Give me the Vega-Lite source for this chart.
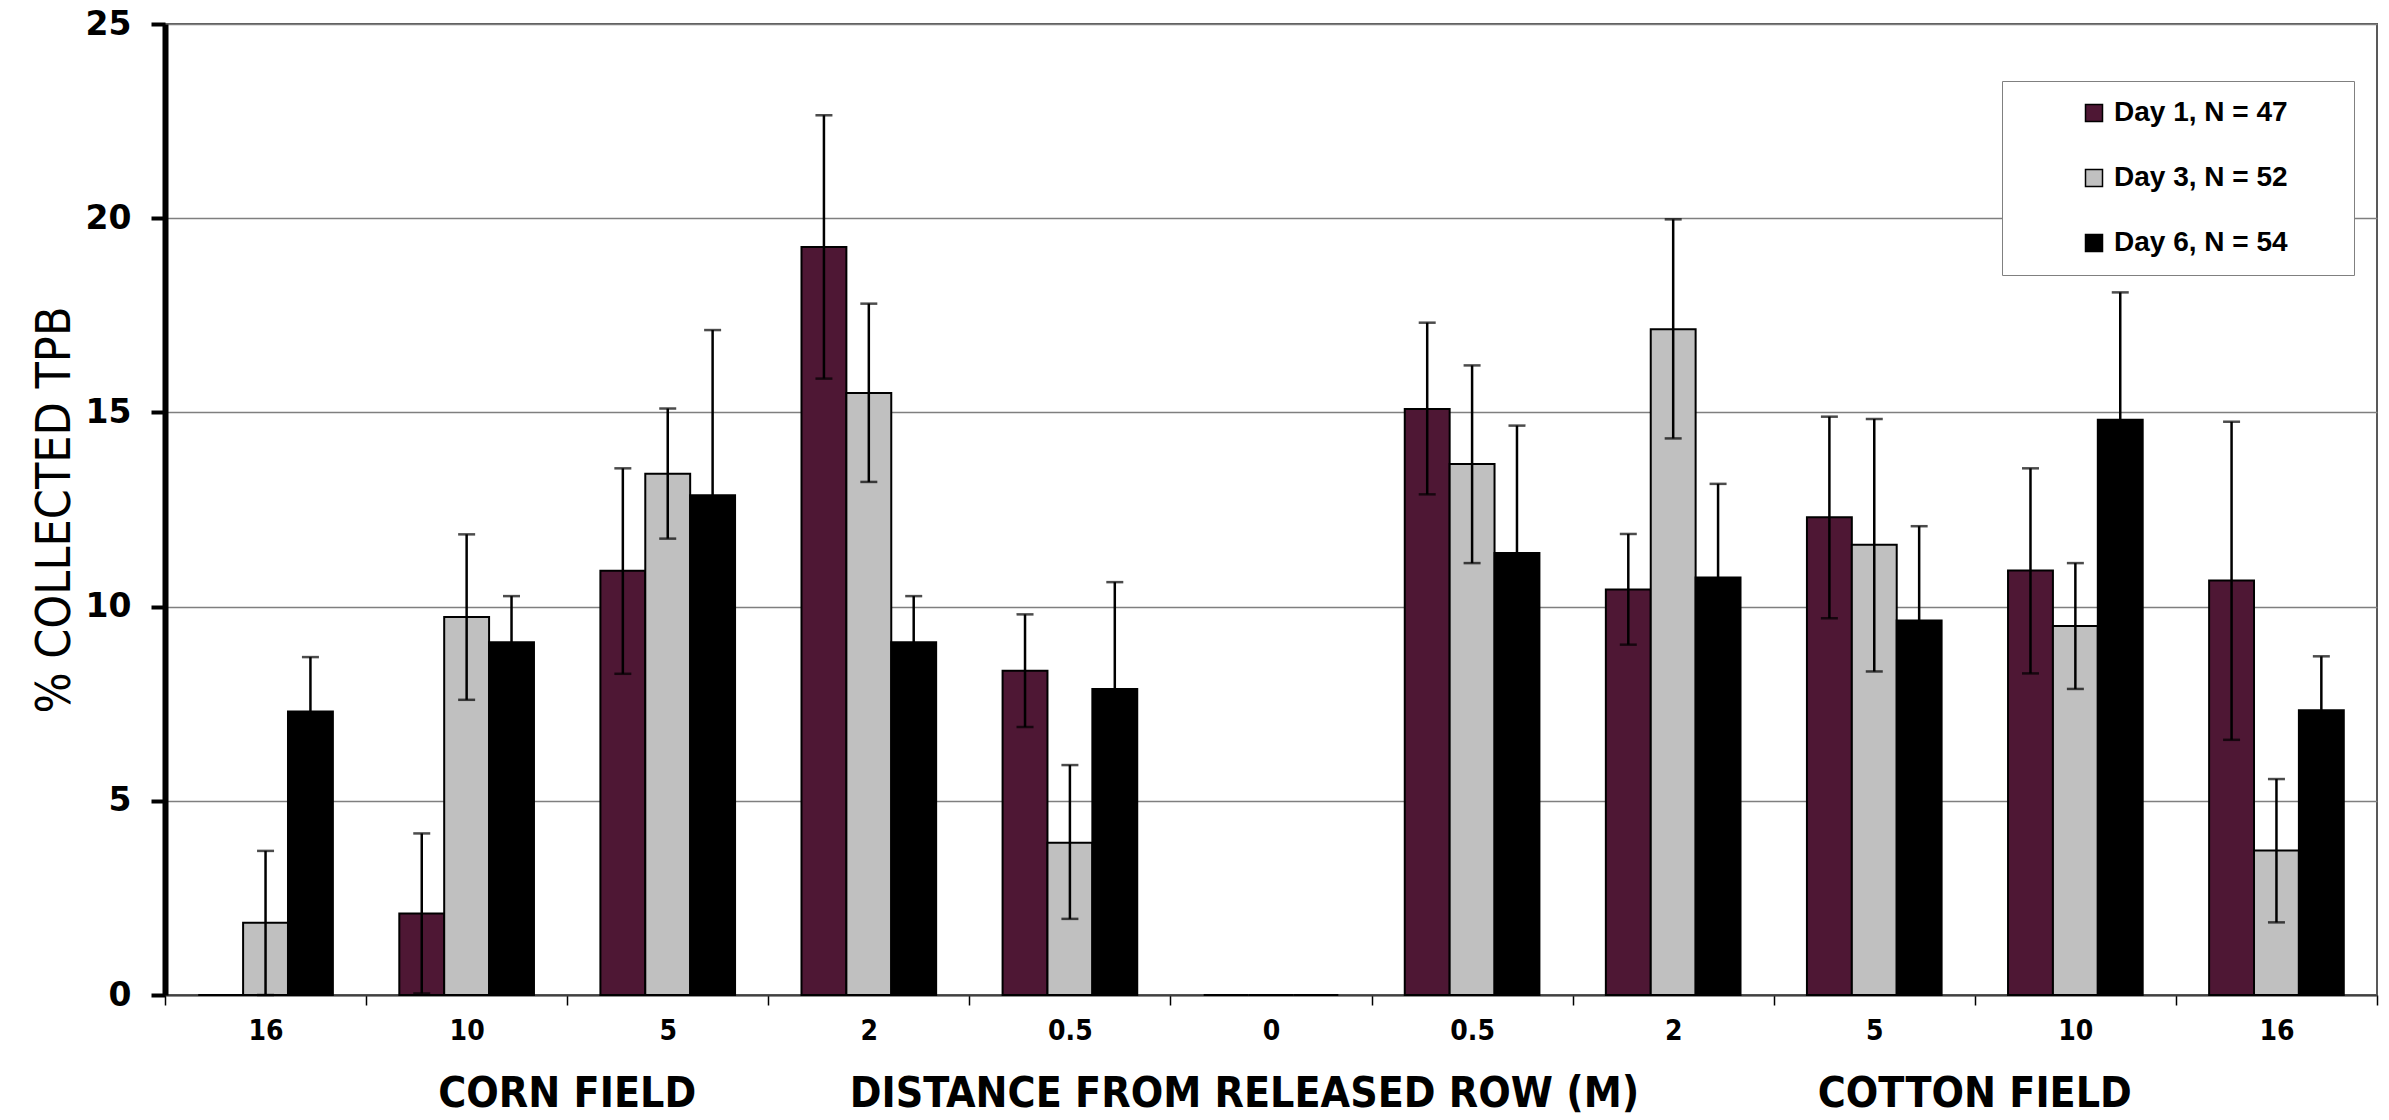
{
  "$schema": "https://vega.github.io/schema/vega-lite/v6.json",
  "width": 2212,
  "height": 971,
  "autosize": {"type": "none"},
  "padding": {"left": 165, "top": 24, "right": 12, "bottom": 125},
  "background": "white",
  "config": {
    "view": {"stroke": "#595959", "strokeWidth": 2},
    "legend": {
      "strokeColor": "#808080",
      "fillColor": "white",
      "padding": 18,
      "symbolType": "square",
      "symbolSize": 289,
      "symbolStrokeColor": "black",
      "symbolStrokeWidth": 1.5,
      "symbolOffset": 60,
      "labelOffset": 6,
      "labelLimit": 500,
      "labelFont": "Liberation Sans",
      "labelFontWeight": "bold",
      "labelFontSize": 28,
      "labelColor": "black",
      "rowPadding": 37
    }
  },
  "datasets": {
    "bars": [
      {"key": "corn|16", "day": "Day 1, N = 47", "value": 0},
      {"key": "corn|16", "day": "Day 3, N = 52", "value": 1.86, "lo": 0, "hi": 3.71},
      {"key": "corn|16", "day": "Day 6, N = 54", "value": 7.30, "lo": 5.90, "hi": 8.70},
      {"key": "corn|10", "day": "Day 1, N = 47", "value": 2.10, "lo": 0.04, "hi": 4.16},
      {"key": "corn|10", "day": "Day 3, N = 52", "value": 9.73, "lo": 7.60, "hi": 11.86},
      {"key": "corn|10", "day": "Day 6, N = 54", "value": 9.08, "lo": 7.89, "hi": 10.27},
      {"key": "corn|5", "day": "Day 1, N = 47", "value": 10.92, "lo": 8.27, "hi": 13.56},
      {"key": "corn|5", "day": "Day 3, N = 52", "value": 13.42, "lo": 11.75, "hi": 15.10},
      {"key": "corn|5", "day": "Day 6, N = 54", "value": 12.87, "lo": 8.62, "hi": 17.12},
      {"key": "corn|2", "day": "Day 1, N = 47", "value": 19.26, "lo": 15.87, "hi": 22.65},
      {"key": "corn|2", "day": "Day 3, N = 52", "value": 15.50, "lo": 13.21, "hi": 17.80},
      {"key": "corn|2", "day": "Day 6, N = 54", "value": 9.08, "lo": 7.89, "hi": 10.27},
      {"key": "corn|0.5", "day": "Day 1, N = 47", "value": 8.35, "lo": 6.90, "hi": 9.80},
      {"key": "corn|0.5", "day": "Day 3, N = 52", "value": 3.92, "lo": 1.96, "hi": 5.92},
      {"key": "corn|0.5", "day": "Day 6, N = 54", "value": 7.88, "lo": 5.13, "hi": 10.63},
      {"key": "row|0", "day": "Day 1, N = 47", "value": 0},
      {"key": "row|0", "day": "Day 3, N = 52", "value": 0},
      {"key": "row|0", "day": "Day 6, N = 54", "value": 0},
      {"key": "cotton|0.5", "day": "Day 1, N = 47", "value": 15.09, "lo": 12.89, "hi": 17.31},
      {"key": "cotton|0.5", "day": "Day 3, N = 52", "value": 13.67, "lo": 11.12, "hi": 16.21},
      {"key": "cotton|0.5", "day": "Day 6, N = 54", "value": 11.38, "lo": 8.10, "hi": 14.66},
      {"key": "cotton|2", "day": "Day 1, N = 47", "value": 10.44, "lo": 9.02, "hi": 11.87},
      {"key": "cotton|2", "day": "Day 3, N = 52", "value": 17.14, "lo": 14.33, "hi": 19.97},
      {"key": "cotton|2", "day": "Day 6, N = 54", "value": 10.75, "lo": 8.34, "hi": 13.16},
      {"key": "cotton|5", "day": "Day 1, N = 47", "value": 12.30, "lo": 9.70, "hi": 14.89},
      {"key": "cotton|5", "day": "Day 3, N = 52", "value": 11.59, "lo": 8.33, "hi": 14.83},
      {"key": "cotton|5", "day": "Day 6, N = 54", "value": 9.64, "lo": 7.21, "hi": 12.07},
      {"key": "cotton|10", "day": "Day 1, N = 47", "value": 10.93, "lo": 8.28, "hi": 13.56},
      {"key": "cotton|10", "day": "Day 3, N = 52", "value": 9.50, "lo": 7.88, "hi": 11.12},
      {"key": "cotton|10", "day": "Day 6, N = 54", "value": 14.81, "lo": 11.53, "hi": 18.09},
      {"key": "cotton|16", "day": "Day 1, N = 47", "value": 10.67, "lo": 6.57, "hi": 14.76},
      {"key": "cotton|16", "day": "Day 3, N = 52", "value": 3.72, "lo": 1.87, "hi": 5.56},
      {"key": "cotton|16", "day": "Day 6, N = 54", "value": 7.33, "lo": 5.94, "hi": 8.72}
    ],
    "regions": [
      {"key": "corn|10", "region": "CORN FIELD"},
      {"key": "cotton|5", "region": "COTTON FIELD"}
    ]
  },
  "layer": [
    {
      "data": {"name": "bars"},
      "mark": {"type": "bar", "stroke": "black", "strokeWidth": 2},
      "encoding": {
        "x": {
          "field": "key", "type": "nominal", "sort": null,
          "scale": {"paddingInner": 0, "paddingOuter": 0},
          "axis": {
            "title": "DISTANCE FROM RELEASED ROW (M)",
            "tickBand": "extent",
            "labelExpr": "split(datum.value, '|')[1]",
            "labelAngle": 0,
            "labelFont": "DejaVu Sans Condensed",
            "labelFontWeight": "bold",
            "labelFontSize": 28,
            "labelColor": "black",
            "labelPadding": 12,
            "tickSize": 10,
            "tickColor": "black",
            "tickWidth": 1.5,
            "domainColor": "#404040",
            "domainWidth": 2,
            "grid": false,
            "titleFont": "DejaVu Sans Condensed",
            "titleFontSize": 42.5,
            "titleFontWeight": "bold",
            "titleColor": "black",
            "titlePadding": 27,
            "titleX": 1079
          }
        },
        "xOffset": {"field": "day", "type": "nominal", "scale": {"paddingInner": 0, "paddingOuter": 0.74}},
        "y": {
          "field": "value", "type": "quantitative",
          "scale": {"domain": [0, 25], "nice": false},
          "axis": {
            "title": "% COLLECTED TPB",
            "values": [0, 5, 10, 15, 20, 25],
            "grid": true,
            "gridColor": "#7f7f7f",
            "gridWidth": 1.5,
            "domainColor": "black",
            "domainWidth": 6,
            "tickColor": "black",
            "tickWidth": 4,
            "tickSize": 14,
            "labelFont": "DejaVu Sans",
            "labelFontWeight": "bold",
            "labelFontSize": 33,
            "labelColor": "black",
            "labelPadding": 20,
            "titleFont": "DejaVu Sans Condensed",
            "titleFontSize": 48,
            "titleFontWeight": "normal",
            "titleColor": "black",
            "titlePadding": 6
          }
        },
        "color": {
          "field": "day", "type": "nominal",
          "scale": {"domain": ["Day 1, N = 47", "Day 3, N = 52", "Day 6, N = 54"], "range": ["#4E1734", "#C0C0C0", "#000000"]},
          "legend": {
            "orient": "none", "legendX": 1837, "legendY": 57,
            "title": "\u00a0\u00a0", "titleOrient": "right", "titleFontSize": 20, "titlePadding": 48
          }
        }
      }
    },
    {
      "data": {"name": "bars"},
      "mark": {"type": "rule", "color": "black", "strokeWidth": 2.5},
      "encoding": {
        "x": {"field": "key", "type": "nominal", "sort": null},
        "xOffset": {"field": "day", "type": "nominal"},
        "y": {"field": "lo", "type": "quantitative"},
        "y2": {"field": "hi"}
      }
    },
    {
      "data": {"name": "bars"},
      "mark": {"type": "tick", "color": "black", "thickness": 2.5, "size": 17},
      "encoding": {
        "x": {"field": "key", "type": "nominal", "sort": null},
        "xOffset": {"field": "day", "type": "nominal"},
        "y": {"field": "hi", "type": "quantitative"}
      }
    },
    {
      "data": {"name": "bars"},
      "mark": {"type": "tick", "color": "black", "thickness": 2.5, "size": 17},
      "encoding": {
        "x": {"field": "key", "type": "nominal", "sort": null},
        "xOffset": {"field": "day", "type": "nominal"},
        "y": {"field": "lo", "type": "quantitative"}
      }
    },
    {
      "data": {"name": "regions"},
      "mark": {"type": "text", "font": "DejaVu Sans Condensed", "fontWeight": "bold", "fontSize": 42.5, "color": "black", "baseline": "middle", "align": "center"},
      "encoding": {
        "x": {"field": "key", "type": "nominal", "sort": null, "bandPosition": 1},
        "y": {"datum": -2.55, "type": "quantitative"},
        "text": {"field": "region"}
      }
    }
  ]
}
